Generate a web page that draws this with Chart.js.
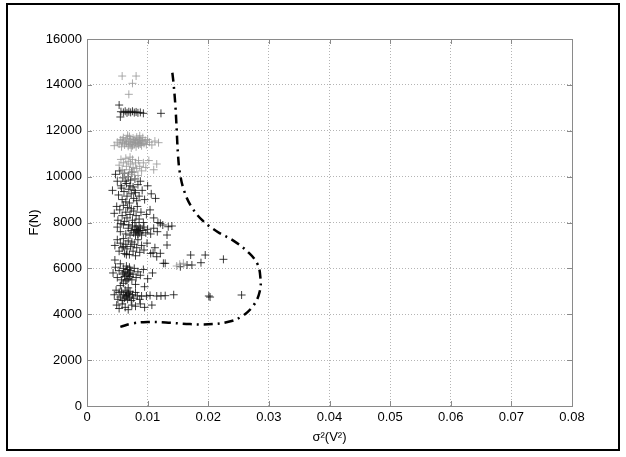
<!DOCTYPE html>
<html>
<head>
<meta charset="utf-8">
<script src="https://cdn.jsdelivr.net/npm/chart.js@4"></script>
<style>
  body { margin: 0; background: #fff; }
  canvas { display: block; }
</style>
</head>
<body>
<canvas id="grafic" width="626" height="457"></canvas>
<script>
// axa x: sigma^2 (V^2), axa y: forta F (N)
var xTicks = [0, 0.01, 0.02, 0.03, 0.04, 0.05, 0.06, 0.07, 0.08];
var xTickLabels = ['0', '0.01', '0.02', '0.03', '0.04', '0.05', '0.06', '0.07', '0.08'];
var yTicks = [0, 2000, 4000, 6000, 8000, 10000, 12000, 14000, 16000];

// masuratori gri (sus)
var puncteGri = [
  [0.0058,14385],[0.0081,14385],[0.0075,14067],[0.0069,13588],
  [0.0045,11350],[0.0050,11500],[0.0053,11420],[0.0055,11600],[0.0057,11300],[0.0059,11480],[0.0060,11700],[0.0062,11380],
  [0.0063,11550],[0.0065,11450],[0.0066,11650],[0.0068,11320],[0.0069,11520],[0.0070,11750],[0.0071,11400],[0.0072,11600],
  [0.0074,11480],[0.0075,11350],[0.0076,11680],[0.0077,11550],[0.0078,11420],[0.0079,11620],[0.0080,11500],[0.0081,11300],
  [0.0082,11720],[0.0083,11450],[0.0084,11580],[0.0085,11380],[0.0086,11650],[0.0087,11500],[0.0088,11420],[0.0089,11600],
  [0.0090,11350],[0.0091,11520],[0.0092,11700],[0.0094,11450],[0.0096,11580],[0.0098,11400],[0.0100,11620],[0.0103,11500],
  [0.0107,11380],[0.0112,11550],[0.0118,11480],[0.0067,11800],[0.0073,11250],[0.0058,11600],[0.0087,11780],
  [0.0053,10500],[0.0056,10750],[0.0058,10300],[0.0060,10600],[0.0062,10150],[0.0064,10800],[0.0065,10450],[0.0067,10000],
  [0.0068,10650],[0.0070,10300],[0.0072,10550],[0.0073,10100],[0.0075,10750],[0.0076,10400],[0.0078,10200],[0.0080,10600],
  [0.0082,10350],[0.0084,10050],[0.0085,10700],[0.0087,10450],[0.0090,10250],[0.0093,10600],[0.0097,10400],[0.0102,10700],
  [0.0110,10300],[0.0115,10550],[0.0060,9950],[0.0079,9900],[0.0071,10850],
  [0.0159,6221],[0.0148,6103],[0.0153,6180]
];

// masuratori negre
var puncteNegre = [
  [0.0053,13121],[0.0056,12830],[0.0060,12800],[0.0063,12850],[0.0066,12780],[0.0069,12830],[0.0072,12800],[0.0075,12850],
  [0.0078,12790],[0.0081,12820],[0.0084,12780],[0.0088,12800],[0.0093,12760],[0.0122,12759],[0.0055,12600],
  [0.0042,9400],[0.0047,10100],[0.0050,9800],[0.0052,9200],[0.0054,10250],[0.0056,9600],[0.0058,9000],[0.0059,9950],
  [0.0061,9350],[0.0062,10150],[0.0064,8900],[0.0065,9700],[0.0066,9150],[0.0068,10000],[0.0069,9450],[0.0070,8850],
  [0.0072,9850],[0.0073,9250],[0.0074,10200],[0.0076,9550],[0.0077,9050],[0.0079,9900],[0.0080,9300],[0.0082,8950],
  [0.0084,9650],[0.0086,9150],[0.0088,9800],[0.0091,9400],[0.0095,9000],[0.0100,9600],[0.0106,9250],[0.0113,9050],
  [0.0057,9500],[0.0063,9800],[0.0071,9600],[0.0078,9400],
  [0.0045,8400],[0.0049,8700],[0.0051,8100],[0.0054,8550],[0.0056,7950],[0.0058,8300],[0.0060,8750],[0.0062,8050],
  [0.0064,8450],[0.0066,8200],[0.0067,8650],[0.0069,7900],[0.0071,8350],[0.0073,8600],[0.0075,8100],[0.0077,8500],
  [0.0079,8000],[0.0081,8300],[0.0083,8700],[0.0086,8150],[0.0089,8450],[0.0093,8000],[0.0098,8350],[0.0104,8550],
  [0.0110,8200],[0.0117,8000],
  [0.0050,7800],[0.0055,7600],[0.0060,7900],[0.0064,7500],[0.0068,7750],[0.0071,7450],[0.0073,7650],[0.0075,7850],
  [0.0077,7550],[0.0079,7700],[0.0080,7450],[0.0081,7800],[0.0082,7600],[0.0083,7700],[0.0084,7500],[0.0085,7650],
  [0.0086,7850],[0.0087,7550],[0.0088,7750],[0.0090,7450],[0.0092,7650],[0.0094,7800],[0.0097,7550],[0.0100,7700],
  [0.0105,7500],[0.0110,7750],[0.0116,7600],[0.0121,7964],[0.0134,7816],[0.0140,7847],[0.0125,7890],[0.0132,7454],
  [0.0046,7000],[0.0050,7250],[0.0053,6750],[0.0055,7100],[0.0058,6900],[0.0060,7300],[0.0062,6650],[0.0064,7050],
  [0.0066,6850],[0.0068,7200],[0.0070,6600],[0.0072,6950],[0.0074,7150],[0.0076,6750],[0.0078,7050],[0.0080,6550],
  [0.0082,6900],[0.0084,7250],[0.0087,6700],[0.0090,7000],[0.0094,6800],[0.0099,7100],[0.0105,6650],[0.0112,6900],
  [0.0132,7018],[0.0109,6683],[0.0121,6657],[0.0115,6508],[0.0065,6600],[0.0060,6950],
  [0.0171,6582],[0.0195,6582],[0.0225,6395],[0.0188,6247],[0.0173,6146],[0.0126,6221],[0.0129,6220],[0.0165,6146],
  [0.0046,6364],[0.0154,6072],
  [0.0043,5800],[0.0047,6050],[0.0050,5600],[0.0053,5900],[0.0055,6200],[0.0057,5500],[0.0059,5750],[0.0060,6000],
  [0.0062,5650],[0.0063,5850],[0.0064,5450],[0.0065,6100],[0.0066,5700],[0.0067,5950],[0.0068,5550],[0.0069,5800],
  [0.0070,6050],[0.0071,5650],[0.0072,5900],[0.0074,5500],[0.0076,5750],[0.0078,6000],[0.0081,5600],[0.0084,5850],
  [0.0088,5700],[0.0093,5950],[0.0100,5550],[0.0108,5800],[0.0061,5800],[0.0066,5500],[0.0070,5750],
  [0.0055,5250],[0.0068,5150],[0.0080,5300],[0.0095,5200],[0.0060,5350],
  [0.0045,4850],[0.0048,5050],[0.0051,4650],[0.0053,4950],[0.0055,4750],[0.0057,5000],[0.0059,4600],[0.0060,4850],
  [0.0062,4700],[0.0063,5050],[0.0064,4800],[0.0066,4950],[0.0067,4650],[0.0068,4850],[0.0070,4750],[0.0071,5000],
  [0.0073,4600],[0.0075,4850],[0.0077,4700],[0.0080,4950],[0.0083,4800],[0.0087,4650],[0.0090,4795],[0.0098,4795],
  [0.0104,4820],[0.0115,4795],[0.0122,4800],[0.0129,4810],[0.0143,4850],[0.0201,4795],[0.0203,4750],[0.0255,4839],
  [0.0065,4800],[0.0069,4900],
  [0.0049,4400],[0.0053,4250],[0.0058,4450],[0.0063,4300],[0.0068,4200],[0.0074,4400],[0.0080,4350],[0.0088,4450],
  [0.0095,4300],[0.0107,4400]
];

// conturul (linie-punct)
var contur = [
  [0.0055,3450],[0.0075,3600],[0.0100,3660],[0.0130,3640],[0.0170,3570],[0.0200,3560],[0.0230,3650],[0.0255,3900],
  [0.0275,4400],[0.0285,5000],[0.0286,5600],[0.0281,6200],[0.0266,6700],[0.0242,7200],[0.0215,7600],[0.0190,8100],
  [0.0172,8700],[0.0160,9400],[0.0153,10200],[0.0150,11000],[0.0148,12000],[0.0146,13000],[0.0143,14000],[0.0140,14700]
];

function caPuncte(lista) {
  return lista.map(function (p) { return { x: p[0], y: p[1] }; });
}

var font = { family: 'Liberation Sans, Arial, sans-serif', size: 13 };

// fundal alb, cadrul exterior, cutia graficului si gradatiile interioare
var cadru = {
  id: 'cadru',
  beforeDraw: function (chart) {
    var ctx = chart.ctx;
    ctx.save();
    ctx.fillStyle = '#fff';
    ctx.fillRect(0, 0, chart.width, chart.height);
    ctx.restore();
  },
  afterDraw: function (chart) {
    var ctx = chart.ctx, a = chart.chartArea;
    var sx = chart.scales.x, sy = chart.scales.y;
    ctx.save();
    ctx.strokeStyle = '#8a8a8a';
    ctx.lineWidth = 1;
    ctx.beginPath();
    xTicks.forEach(function (v) {
      var px = Math.round(sx.getPixelForValue(v)) + 0.5;
      ctx.moveTo(px, a.bottom); ctx.lineTo(px, a.bottom - 5);
      ctx.moveTo(px, a.top); ctx.lineTo(px, a.top + 5);
    });
    yTicks.forEach(function (v) {
      var py = Math.round(sy.getPixelForValue(v)) + 0.5;
      ctx.moveTo(a.left, py); ctx.lineTo(a.left + 5, py);
      ctx.moveTo(a.right, py); ctx.lineTo(a.right - 5, py);
    });
    ctx.stroke();
    ctx.strokeRect(Math.round(a.left) + 0.5, Math.round(a.top) + 0.5,
      Math.round(a.right - a.left), Math.round(a.bottom - a.top));
    ctx.strokeStyle = '#000';
    ctx.lineWidth = 2;
    ctx.strokeRect(7, 4, 612, 446);
    ctx.restore();
  }
};

var ctx = document.getElementById('grafic').getContext('2d');
new Chart(ctx, {
  type: 'scatter',
  data: {
    datasets: [{
      label: 'gri',
      data: caPuncte(puncteGri),
      pointStyle: 'cross',
      pointRadius: 4,
      borderWidth: 1,
      borderColor: 'rgba(150,150,150,0.8)',
      backgroundColor: 'rgba(150,150,150,0.8)'
    }, {
      label: 'negru',
      data: caPuncte(puncteNegre),
      pointStyle: 'cross',
      pointRadius: 4,
      borderWidth: 1,
      borderColor: 'rgba(15,15,15,0.8)',
      backgroundColor: 'rgba(15,15,15,0.8)'
    }, {
      label: 'contur',
      type: 'line',
      data: caPuncte(contur),
      showLine: true,
      pointRadius: 0,
      borderColor: '#000',
      borderWidth: 2.5,
      borderDash: [9, 5, 2, 5],
      tension: 0.4,
      fill: false
    }]
  },
  options: {
    responsive: false,
    animation: false,
    layout: { padding: { left: 0, top: 39, right: 54, bottom: 0 } },
    plugins: { legend: { display: false }, tooltip: { enabled: false } },
    scales: {
      x: {
        type: 'linear',
        min: 0,
        max: 0.08,
        afterBuildTicks: function (scale) {
          scale.ticks = xTicks.map(function (v) { return { value: v }; });
        },
        afterFit: function (scale) { scale.height = 51; },
        ticks: {
          color: '#000',
          font: font,
          padding: 4,
          maxRotation: 0,
          callback: function (v, i) { return xTickLabels[i]; }
        },
        grid: { color: '#b4b4b4', lineWidth: 1, drawTicks: false },
        border: { display: false, dash: [1, 2] },
        title: { display: true, text: 'σ²(V²)', color: '#000', font: font, padding: { top: 0, bottom: 12 } }
      },
      y: {
        type: 'linear',
        min: 0,
        max: 16000,
        afterBuildTicks: function (scale) {
          scale.ticks = yTicks.map(function (v) { return { value: v }; });
        },
        afterFit: function (scale) { scale.width = 87; },
        ticks: {
          color: '#000',
          font: font,
          padding: 5,
          callback: function (v) { return String(v); }
        },
        grid: { color: '#b4b4b4', lineWidth: 1, drawTicks: false },
        border: { display: false, dash: [1, 2] },
        title: { display: true, text: 'F(N)', color: '#000', font: font, padding: { top: 27, bottom: 0 } }
      }
    }
  },
  plugins: [cadru]
});
</script>
</body>
</html>
